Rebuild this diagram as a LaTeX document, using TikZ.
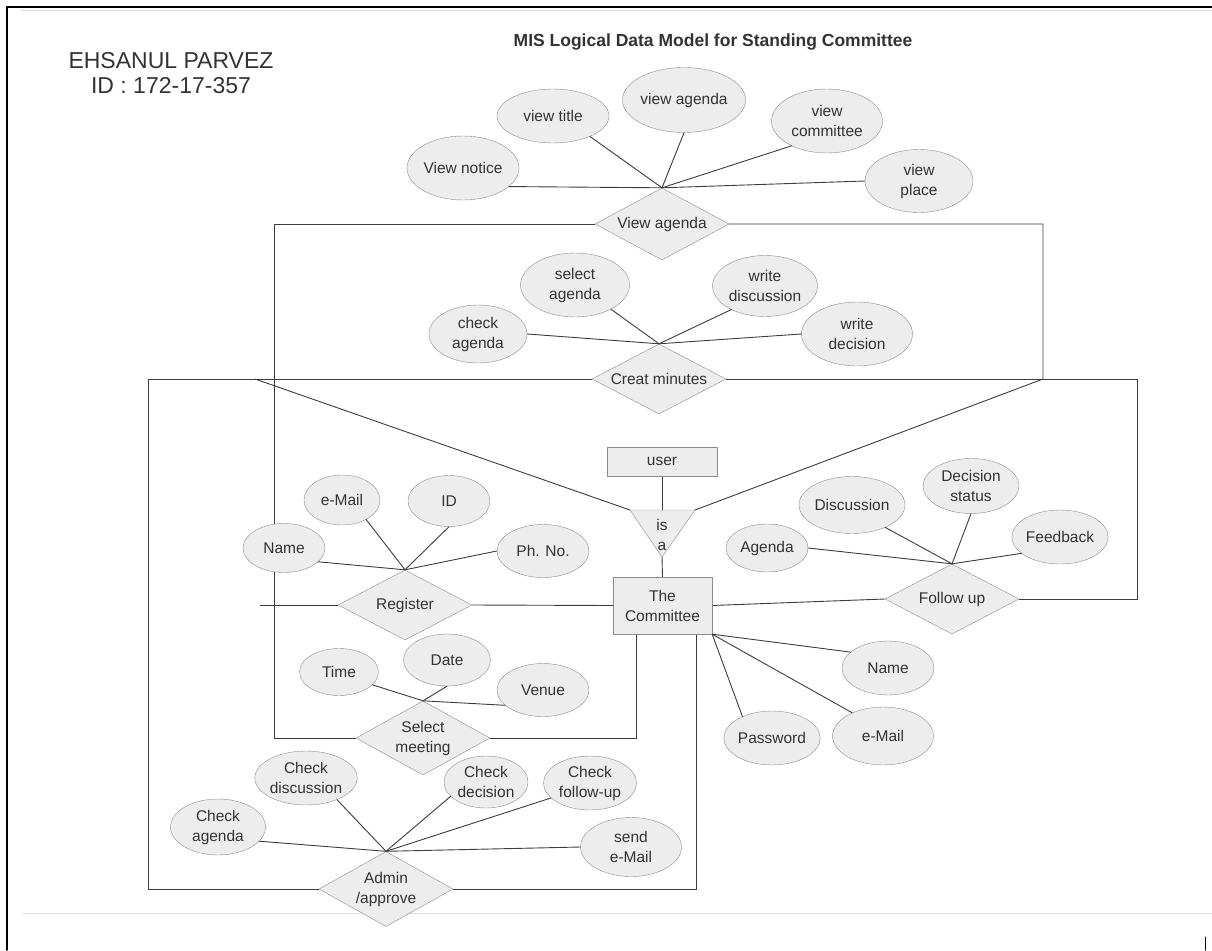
\documentclass[tikz,border=0pt]{standalone}
\usepackage{fontspec}
\setmainfont{Liberation Sans}
\usetikzlibrary{shapes.geometric,backgrounds}
\definecolor{shapefill}{HTML}{EDEDED}
\definecolor{shapeline}{HTML}{8C8C8C}
\definecolor{linkline}{HTML}{3C3C3C}
\definecolor{labeltext}{HTML}{333333}
\tikzset{
  lbl/.style={font=\fontsize{15.5}{20}\selectfont, text=labeltext, align=center},
  attr/.style={lbl, ellipse, draw=shapeline, fill=shapefill, inner sep=0pt},
  rel/.style={lbl, diamond, aspect=2, draw=shapeline, fill=shapefill, inner sep=0pt,
    minimum width=134pt, minimum height=72pt},
  ent/.style={lbl, rectangle, draw=shapeline, fill=shapefill, inner sep=0pt},
  link/.style={draw=linkline, line width=0.9pt},
}

\begin{document}
\begin{tikzpicture}[x=1pt, y=-1pt, line join=round, line cap=round]
\useasboundingbox (0,0) rectangle (1212,950);
% page frame
\draw[line width=1.6pt] (7,950) -- (7,7) -- (1212,7);
\draw[black!12, line width=1pt] (21,10.5) -- (1212,10.5) (22,913) -- (1212,913);
\draw[line width=1pt] (1205,937) -- (1205,950);

% headings
\node[font=\fontsize{23}{25}\selectfont, text=labeltext, align=center] (author) at (171,73.5)
  {EHSANUL PARVEZ\\ID : 172-17-357};
\node[font=\bfseries\fontsize{17.5}{20}\selectfont, text=labeltext] (title) at (713,42)
  {MIS Logical Data Model for Standing Committee};

% relationships
\node[rel] (va) at (662,224) {View agenda};
\node[rel, minimum height=70pt] (cm) at (659,379) {Creat minutes};
\node[rel, minimum height=70pt] (rg) at (405,605) {Register};
\node[rel, minimum height=74pt] (sm) at (423,738) {Select\\meeting};
\node[rel, minimum height=70pt] (fu) at (952,599) {Follow up};
\node[rel, minimum height=75pt] (ad) at (386,889) {Admin\\/approve};

% entities
\node[ent, minimum width=110pt, minimum height=29pt] (us) at (662,461.5) {user};
\node[ent, minimum width=99pt, minimum height=57pt] (tc) at (662.5,605.5) {The\\Committee};
\coordinate (isaL) at (630,510);
\coordinate (isaR) at (695,510);
\coordinate (isaB) at (662,557);
\draw[draw=shapeline, fill=shapefill] (isaL) -- (isaR) -- (isaB) -- cycle;
\node[lbl] (isa) at (662,535) {is\\a};

% attributes
\foreach \n/\x/\y/\w/\h/\t in {
    vn/463/168/112/64/{View notice}, vt/553/116/112/54/{view title},
    vag/684/100/111/65/{view agenda}, vc/827/121/111/64/{view\\committee},
    vp/919/181/108/63/{view\\place},
    ca/478/334/98/58/{check\\agenda}, sa/575/285/109/64/{select\\agenda},
    wd/765/286/105/61/{write\\discussion}, wdc/857/334/111/64/{write\\decision},
    rem/342/500/76/50/{e-Mail}, rid/449/501/82/51/{ID},
    rnm/284/548/82/49/{Name}, rph/543/551/92/53/{Ph. No.},
    stm/339/672/79/47/{Time}, sdt/447/660/87/52/{Date}, svn/543/690/92/53/{Venue},
    fag/767/548/82/48/{Agenda}, fds/852/505/100/57/{Discussion},
    fdst/971/486/96/55/{Decision\\status}, ffb/1060/537/94/54/{Feedback},
    cnm/888/668/92/54/{Name}, cem/883/736/101/58/{e-Mail}, cpw/772/738/92/54/{Password},
    aca/218/827/95/56/{Check\\agenda}, acd/306/778/94/54/{Check\\discussion},
    adc/486/782/84/52/{Check\\decision}, afu/590/783/93/54/{Check\\follow-up},
    asm/631/847/101/59/{send\\e-Mail}}
  \node[attr, minimum width=\w pt, minimum height=\h pt] (\n) at (\x,\y) {\t};

% attribute links
\foreach \n/\a in {vn/-22, vt/-29, vag/-90, vc/-145, vp/180}
  \draw[link] (va.north) -- (\n.\a);
\foreach \n/\a in {ca/0, sa/-34, wd/-145, wdc/180}
  \draw[link] (cm.north) -- (\n.\a);
\foreach \n/\a in {rem/-39, rid/-90, rnm/-22, rph/180}
  \draw[link] (rg.north) -- (\n.\a);
\foreach \n/\a in {stm/-21, sdt/-90, svn/-158}
  \draw[link] (sm.north) -- (\n.\a);
\foreach \n/\a in {fag/0, fds/-34, fdst/-90, ffb/-157}
  \draw[link] (fu.north) -- (\n.\a);
\foreach \n/\a in {cnm/157, cem/143, cpw/144}
  \draw[link] (tc.south east) -- (\n.\a);
\foreach \n/\a in {aca/-19, acd/-35, adc/-158, afu/-159, asm/180}
  \draw[link] (ad.north) -- (\n.\a);

% frame corners
\foreach \n/\x/\y in {c1/274/224, c2/274/738, c3/636/738, c4/1043/224, c5/1043/379,
    d1/148/379, d2/148/889, d3/696/889, d4/1137/379, d5/1137/599, d6/255/379, st/260/605}
  \coordinate (\n) at (\x,\y);

% relationship links, kept behind the shapes
\begin{scope}[on background layer]
\draw[link] (va.west) -- (c1) -- (c2) -- (sm.west);
\draw[link] (sm.east) -- (c3) -- (c3 |- tc.south);
\draw[link] (va.east) -- (c4) -- (c5) -- (isaR);
\draw[link] (cm.west) -- (d1) -- (d2) -- (ad.west);
\draw[link] (ad.east) -- (d3) -- (d3 |- tc.south);
\draw[link] (cm.east) -- (d4) -- (d5) -- (fu.east);
\draw[link] (d6) -- (isaL);
\draw[link] (st) -- (rg.west);
\draw[link] (rg.east) -- (tc.west);
\draw[link] (tc.east) -- (fu.west);
\draw[link] (us.south) -- (us.south |- isaL);
\draw[link] (isaB) -- (tc.north);
\end{scope}
\end{tikzpicture}
\end{document}
